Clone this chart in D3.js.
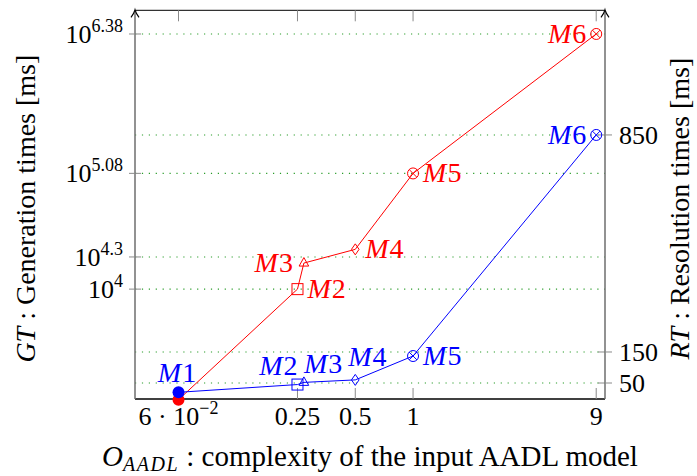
<!DOCTYPE html>
<html>
<head>
<meta charset="utf-8">
<script src="https://cdn.jsdelivr.net/npm/d3@7"></script>
<style>
  body { margin: 0; background: #fff; }
  text { font-family: "Liberation Serif", "Times New Roman", serif; }
</style>
</head>
<body>
<svg id="chart" width="697" height="476"></svg>
<script>
const width = 697;
const height = 476;

// values
const models = ["M1", "M2", "M3", "M4", "M5", "M6"];
const complexity = [0.06, 0.25, 0.27, 0.5, 1, 9];
const genTimes = [930, 10000, 17500, 23500, 120000, 2400000];   // GT [ms], log axis
const resTimes = [20, 45, 52, 60, 137, 850];                      // RT [ms], linear axis
const xTicks = [0.06, 0.25, 0.5, 1, 9];
const xTickLabels = [["6 · 10", "−2"], ["0.25"], ["0.5"], ["1"], ["9"]];
const gtTickExps = ["4", "4.3", "5.08", "6.38"];
const rtTicks = [50, 150, 850];
const markerShapes = ["dot", "square", "triangle", "diamond", "otimes", "otimes"];

// label placement (style): [dx, dy, anchor] relative to the mark, null = no label
const gtLabelStyle = [null, [10, 9, "start"], [-10, 9, "end"], [10, 9, "start"], [10, 9, "start"], [-9, 9, "end"]];
const rtLabelStyle = [[-1, -10, "middle"], [1, -10, "end"], [0, -9, "start"], [-7, -14, "start"], [10, 9, "start"], [-9, 9, "end"]];

const pLeft = 135, pRight = 605, pTop = 10.3, pBottom = 399;

const svg = d3.select("#chart");

const x = d3.scaleLog().domain([0.0356, 10]).range([pLeft, pRight]);
const yGT = d3.scaleLog().domain([Math.pow(10, 2.975), Math.pow(10, 6.601)]).range([pBottom, pTop]);
const yRT = d3.scaleLinear().domain([-1.6, 1252]).range([pBottom, pTop]);

// dotted green grid
const gridYs = gtTickExps.map(e => yGT(Math.pow(10, +e))).concat(rtTicks.map(v => yRT(v)));
svg.append("g").selectAll("line")
  .data(gridYs)
  .enter().append("line")
  .attr("x1", pLeft).attr("x2", pRight)
  .attr("y1", d => d).attr("y2", d => d)
  .attr("stroke", "#2a9d2a")
  .attr("stroke-width", 1.1)
  .attr("stroke-dasharray", "1.2 5.7");

// axis frame
const axes = svg.append("g");
axes.append("line").attr("x1", pLeft).attr("x2", pRight).attr("y1", pTop).attr("y2", pTop)
  .attr("stroke", "#000").attr("stroke-width", 1);
axes.append("line").attr("x1", pLeft).attr("x2", pRight).attr("y1", pBottom).attr("y2", pBottom)
  .attr("stroke", "#000").attr("stroke-width", 1.3);
[pLeft, pRight].forEach(ax => {
  axes.append("line").attr("x1", ax).attr("x2", ax).attr("y1", pBottom).attr("y2", pTop + 1)
    .attr("stroke", "#6e6e6e").attr("stroke-width", 1.5);
  // arrow tip
  axes.append("path")
    .attr("d", `M${ax - 4},${pTop + 7} Q${ax - 1},${pTop + 3} ${ax},${pTop - 0.5} Q${ax + 1},${pTop + 3} ${ax + 4},${pTop + 7}`)
    .attr("fill", "none").attr("stroke", "#000").attr("stroke-width", 1.2);
});

// ticks
const tickColor = "#8a8a8a";
xTicks.forEach(v => {
  axes.append("line").attr("x1", x(v)).attr("x2", x(v)).attr("y1", pTop).attr("y2", pTop + 11)
    .attr("stroke", tickColor).attr("stroke-width", 1);
  axes.append("line").attr("x1", x(v)).attr("x2", x(v)).attr("y1", pBottom - 11).attr("y2", pBottom)
    .attr("stroke", tickColor).attr("stroke-width", 1);
});
gtTickExps.forEach(e => {
  const y = yGT(Math.pow(10, +e));
  axes.append("line").attr("x1", pLeft - 6).attr("x2", pLeft + 6).attr("y1", y).attr("y2", y)
    .attr("stroke", tickColor).attr("stroke-width", 1);
});
rtTicks.forEach(v => {
  const y = yRT(v);
  axes.append("line").attr("x1", pRight - 7).attr("x2", pRight + 7).attr("y1", y).attr("y2", y)
    .attr("stroke", tickColor).attr("stroke-width", 1);
});

// tick labels
xTicks.forEach((v, i) => {
  const t = svg.append("text")
    .attr("x", x(v)).attr("y", 425)
    .attr("text-anchor", "middle")
    .attr("font-size", 26);
  t.append("tspan").text(xTickLabels[i][0]);
  if (xTickLabels[i][1]) {
    t.append("tspan").attr("dy", -11).attr("font-size", 18).text(xTickLabels[i][1]);
  }
});
gtTickExps.forEach(e => {
  const t = svg.append("text")
    .attr("x", 123).attr("y", yGT(Math.pow(10, +e)) + 9)
    .attr("text-anchor", "end")
    .attr("font-size", 26);
  t.append("tspan").text("10");
  t.append("tspan").attr("dy", -11).attr("font-size", 18).text(e);
});
rtTicks.forEach(v => {
  svg.append("text")
    .attr("x", 619).attr("y", yRT(v) + 9)
    .attr("font-size", 26)
    .text(v);
});

// axis titles
const xt = svg.append("text")
  .attr("x", 370).attr("y", 466)
  .attr("text-anchor", "middle")
  .attr("font-size", 29);
xt.append("tspan").attr("font-style", "italic").text("O");
xt.append("tspan").attr("font-style", "italic").attr("font-size", 20)
  .attr("letter-spacing", 1.5).attr("dy", 5).text("AADL");
xt.append("tspan").attr("dy", -5).text(" : complexity of the input AADL model");

function yTitle(xPos, sym, rest) {
  const t = svg.append("text")
    .attr("transform", `translate(${xPos},${(pTop + pBottom) / 2 + 4}) rotate(-90)`)
    .attr("text-anchor", "middle")
    .attr("font-size", 28);
  t.append("tspan").attr("font-style", "italic").text(sym);
  t.append("tspan").text(" : " + rest);
}
yTitle(35, "GT", "Generation times [ms]");
yTitle(689, "RT", "Resolution times [ms]");

// series
function drawSeries(values, yScale, color, labelStyle) {
  const pts = values.map((v, i) => [x(complexity[i]), yScale(v)]);
  const g = svg.append("g");

  g.append("path")
    .attr("d", d3.line()(pts))
    .attr("fill", "none")
    .attr("stroke", color)
    .attr("stroke-width", 1);

  pts.forEach(([px, py], i) => {
    const shape = markerShapes[i];
    if (shape === "dot") {
      g.append("circle").attr("cx", px).attr("cy", py).attr("r", 6).attr("fill", color);
    } else if (shape === "square") {
      g.append("rect").attr("x", px - 5.5).attr("y", py - 5.5).attr("width", 11).attr("height", 11)
        .attr("fill", "none").attr("stroke", color).attr("stroke-width", 1);
    } else if (shape === "triangle") {
      g.append("path").attr("d", `M${px},${py - 5.5} L${px + 4.8},${py + 3} L${px - 4.8},${py + 3} Z`)
        .attr("fill", "none").attr("stroke", color).attr("stroke-width", 1);
    } else if (shape === "diamond") {
      g.append("path").attr("d", `M${px},${py - 5.5} L${px + 3.8},${py} L${px},${py + 5.5} L${px - 3.8},${py} Z`)
        .attr("fill", "none").attr("stroke", color).attr("stroke-width", 1);
    } else if (shape === "otimes") {
      const r = 5.5, d = r * 0.707;
      g.append("circle").attr("cx", px).attr("cy", py).attr("r", r)
        .attr("fill", "none").attr("stroke", color).attr("stroke-width", 1);
      g.append("path").attr("d", `M${px - d},${py - d} L${px + d},${py + d} M${px - d},${py + d} L${px + d},${py - d}`)
        .attr("stroke", color).attr("stroke-width", 1);
    }

    const ls = labelStyle[i];
    if (ls) {
      const t = g.append("text")
        .attr("x", px + ls[0]).attr("y", py + ls[1])
        .attr("text-anchor", ls[2])
        .attr("font-size", 28)
        .attr("letter-spacing", 1)
        .attr("fill", color);
      t.append("tspan").attr("font-style", "italic").text(models[i][0]);
      t.append("tspan").text(models[i].slice(1));
    }
  });
}

drawSeries(genTimes, yGT, "#ff0000", gtLabelStyle);
drawSeries(resTimes, yRT, "#0000ff", rtLabelStyle);
</script>
</body>
</html>
